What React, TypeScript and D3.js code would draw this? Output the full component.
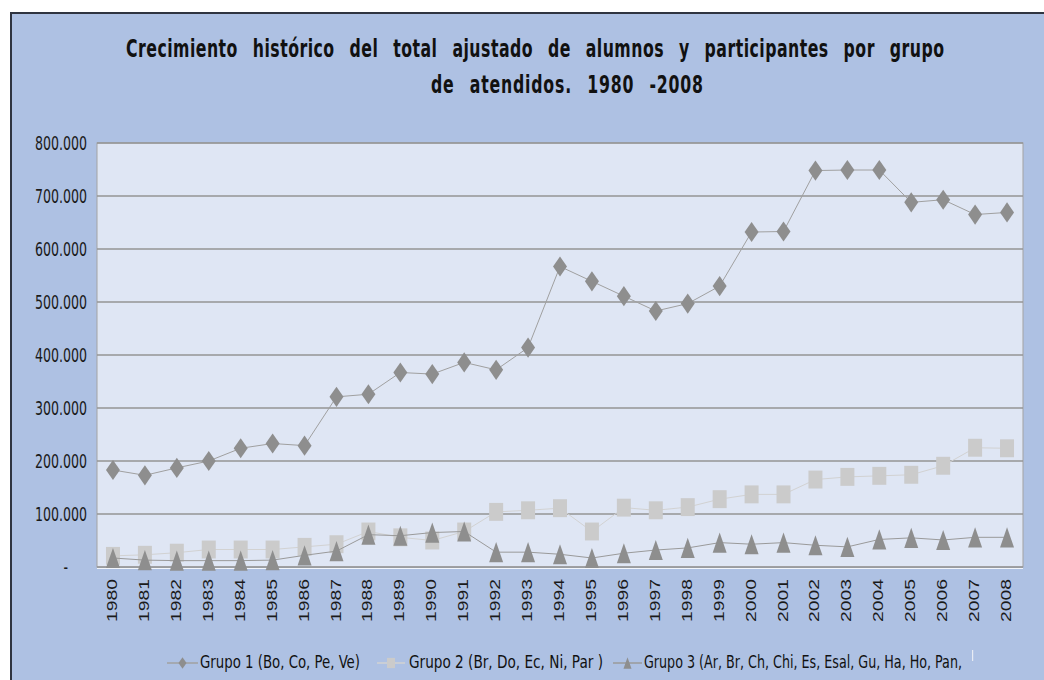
import React from 'react';
import * as d3 from 'd3';

const years = ['1980', '1981', '1982', '1983', '1984', '1985', '1986', '1987', '1988', '1989', '1990', '1991', '1992', '1993', '1994', '1995', '1996', '1997', '1998', '1999', '2000', '2001', '2002', '2003', '2004', '2005', '2006', '2007', '2008'];

const grupo1 = [183000, 173000, 187000, 200000, 224000, 233000, 229000, 321000, 326000, 367000, 364000, 386000, 372000, 414000, 567000, 539000, 511000, 483000, 497000, 530000, 632000, 633000, 748000, 749000, 749000, 688000, 693000, 665000, 669000];
const grupo2 = [21000, 23000, 27000, 33000, 33000, 33000, 38000, 43000, 67000, 56000, 50000, 67000, 104000, 107000, 111000, 67000, 112000, 107000, 113000, 128000, 137000, 137000, 165000, 170000, 172000, 174000, 191000, 225000, 224000];
const grupo3 = [17000, 13000, 12000, 12000, 12000, 13000, 22000, 30000, 61000, 59000, 65000, 67000, 28000, 28000, 24000, 17000, 26000, 32000, 36000, 46000, 43000, 46000, 41000, 38000, 52000, 55000, 51000, 56000, 56000];

const yTicks = [0, 100000, 200000, 300000, 400000, 500000, 600000, 700000, 800000];
const yTickLabels = ['-', '100.000', '200.000', '300.000', '400.000', '500.000', '600.000', '700.000', '800.000'];

const seriesNames = ['Grupo 1 (Bo, Co, Pe, Ve)', 'Grupo 2 (Br, Do, Ec,  Ni, Par )', 'Grupo 3 (Ar, Br, Ch, Chi, Es, Esal, Gu, Ha, Ho, Pan,'];

const condensed = "'DejaVu Sans Condensed', 'DejaVu Sans', sans-serif";

// marker shapes, slightly taller than wide like the original
const diamond = (s: number) => `M0,${-s * 0.72}L${s / 2},0L0,${s * 0.72}L${-s / 2},0Z`;
const square = (s: number) => `M${-s / 2},${-s * 0.64}H${s / 2}V${s * 0.64}H${-s / 2}Z`;
const triangle = (s: number) => `M0,${-s * 0.72}L${s / 2},${s * 0.72}L${-s / 2},${s * 0.72}Z`;

const App: React.FC = () => {
  const width = 1044;
  const height = 680;
  const plot = { left: 97, right: 1023, top: 143, bottom: 567 };

  const x = d3.scaleBand().domain(years).range([plot.left, plot.right]).paddingInner(0).paddingOuter(0);
  const y = d3.scaleLinear().domain([0, 800000]).range([plot.bottom, plot.top]);
  const cx = (yr: string) => (x(yr) || 0) + x.bandwidth() / 2;

  const line = d3.line<number>()
    .x((_, i) => cx(years[i]))
    .y(d => y(d));

  const series = [
    { values: grupo1, lineColor: '#a0a0a0', fill: '#8e8e8e', shape: diamond },
    { values: grupo2, lineColor: '#d2d2d2', fill: '#cbcbcb', shape: square },
    { values: grupo3, lineColor: '#9a9a9a', fill: '#8e8e8e', shape: triangle },
  ];

  const legend = [
    { x0: 167, x1: 198, tx: 200, tl: 160 },
    { x0: 377, x1: 405, tx: 409, tl: 194 },
    { x0: 613, x1: 642, tx: 644, tl: 318 },
  ];

  return (
    <svg width={width} height={height} style={{ position: 'absolute', left: 0, top: 0, display: 'block' }}>
      <rect x={0} y={0} width={width} height={height} fill="#ffffff" />
      <rect x={11} y={13} width={width} height={height} fill="#aec1e3" stroke="#2f3440" strokeWidth={2} />

      {/* title */}
      <g transform="translate(126,57) scale(1,1.4)">
        <text fontFamily={condensed} fontWeight="bold" fontSize={17.5} fill="#111" wordSpacing={9} textLength={818} lengthAdjust="spacing">
          Crecimiento histórico del total ajustado de alumnos y participantes por grupo
        </text>
      </g>
      <g transform="translate(431,93) scale(1,1.4)">
        <text fontFamily={condensed} fontWeight="bold" fontSize={17.5} fill="#111" wordSpacing={9} textLength={272} lengthAdjust="spacing">
          de atendidos. 1980 -2008
        </text>
      </g>

      {/* plot area */}
      <rect x={plot.left} y={plot.top} width={plot.right - plot.left} height={plot.bottom - plot.top} fill="#dfe6f4" stroke="#a3a3a3" strokeWidth={1} />
      {yTicks.map(t => (
        <line key={t} x1={plot.left} x2={plot.right} y1={y(t)} y2={y(t)} stroke="#959595" strokeWidth={1.3} />
      ))}
      <line x1={plot.left} x2={plot.right} y1={plot.bottom + 1.5} y2={plot.bottom + 1.5} stroke="#f2f5fb" strokeWidth={1} />

      {/* y labels */}
      {yTicks.map((t, i) => (
        <g key={t} transform={`translate(${i === 0 ? 68 : 87},${y(t)}) scale(1,1.35)`}>
          <text fontFamily={condensed} fontSize={14} fill="#1a1a1a" textAnchor="end" dy="0.36em">
            {yTickLabels[i]}
          </text>
        </g>
      ))}

      {/* x labels */}
      {years.map(yr => (
        <g key={yr} transform={`translate(${cx(yr) - 1},579) rotate(-90) scale(1.38,1)`}>
          <text fontFamily="'Liberation Sans', Arial, sans-serif" fontSize={14} fill="#1a1a1a" textAnchor="end" dy="0.36em">
            {yr}
          </text>
        </g>
      ))}

      {/* series */}
      {series.map((s, si) => (
        <g key={si}>
          <path d={line(s.values) || ''} fill="none" stroke={s.lineColor} strokeWidth={1} />
          {s.values.map((v, i) => (
            <path key={i} d={s.shape(14)} transform={`translate(${cx(years[i])},${y(v)})`} fill={s.fill} />
          ))}
        </g>
      ))}

      {/* legend */}
      {legend.map((l, i) => (
        <g key={i}>
          <line x1={l.x0} x2={l.x1} y1={663} y2={663} stroke={series[i].lineColor} strokeWidth={1.5} />
          <path d={series[i].shape(8)} transform={`translate(${(l.x0 + l.x1) / 2},663)`} fill={series[i].fill} />
          <g transform={`translate(${l.tx},668) scale(1,1.3)`}>
            <text fontFamily={condensed} fontSize={13} fill="#111" textLength={l.tl} lengthAdjust="spacingAndGlyphs">
              {seriesNames[i]}
            </text>
          </g>
        </g>
      ))}
      <rect x={972} y={650} width={1.2} height={11} fill="#e8ecf4" />
    </svg>
  );
};

export default App;
